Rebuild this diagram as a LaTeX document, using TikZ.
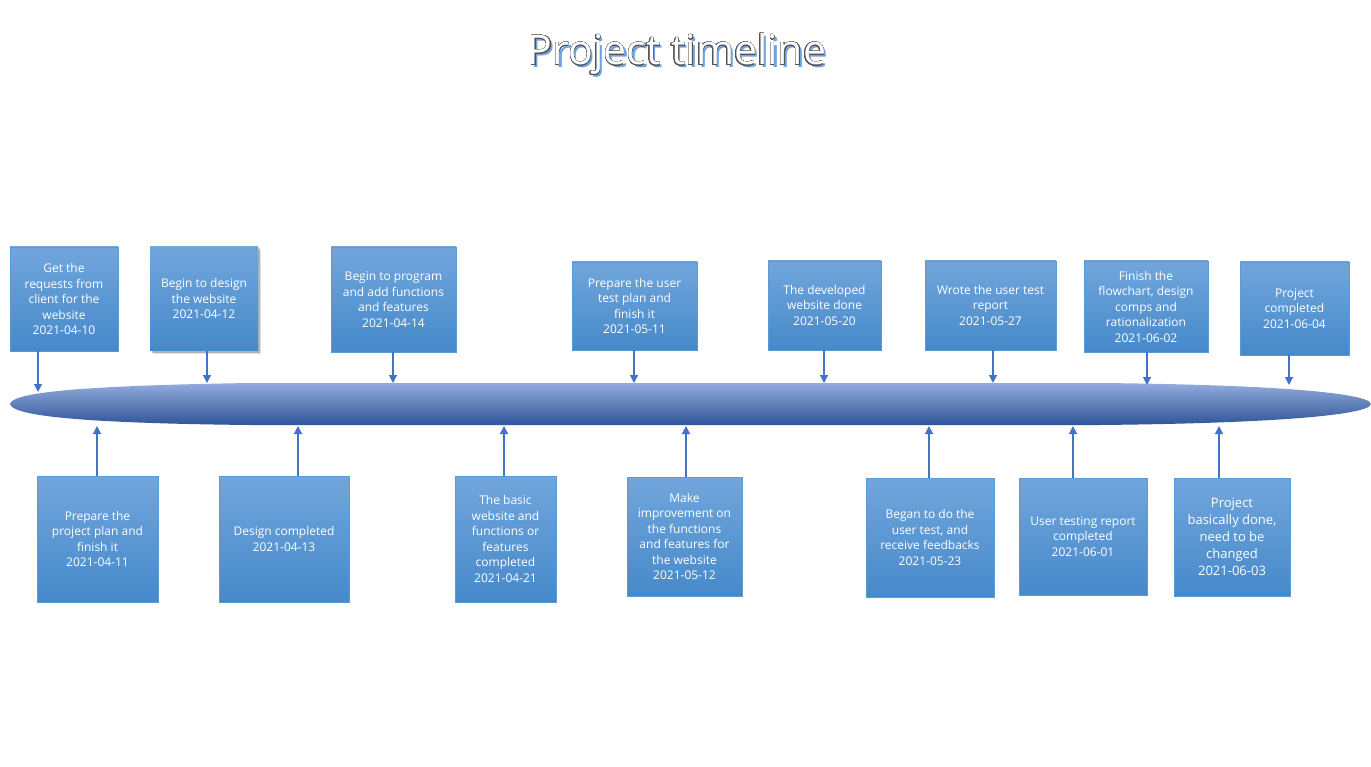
\documentclass[tikz,border=0pt]{standalone}
\usepackage{fontspec}
\setmainfont{Open Sans}
\usepackage{contour}
\contourlength{0.35pt}
\contournumber{32}
\usetikzlibrary{arrows.meta,shadows}
\definecolor{boxtop}{HTML}{71A6DC}
\definecolor{boxbot}{HTML}{4689CA}
\definecolor{boxline}{HTML}{5B9BD5}
\definecolor{arrowblue}{HTML}{4472C4}
\definecolor{bartop}{HTML}{93ACDE}
\definecolor{barmid}{HTML}{4472C4}
\definecolor{barbot}{HTML}{2F5597}
\definecolor{titleshadow}{HTML}{6FA3DE}
\definecolor{titleline}{HTML}{555555}
\tikzset{
  stepbox/.style={draw=boxline, line width=0.8pt, top color=boxtop, bottom color=boxbot,
    text=white, align=center, inner sep=0pt, font=\fontsize{12}{15.5}\selectfont},
  conn/.style={arrowblue, line width=1.2pt, -{Triangle[width=8pt,length=8pt]}},
  titlefont/.style={font=\fontsize{41}{48}\selectfont, anchor=base}
}
\begin{document}
\begin{tikzpicture}[x=1pt,y=-1pt]
      \path[fill=white, use as bounding box] (0,0) rectangle (1371,767);
      % title
      \node[titlefont, text=titleshadow] (tshadow) at (679.5,67.5) {Project timeline};
      \node[titlefont] (title) at (677,65) {\contour{titleline}{\textcolor{white}{Project timeline}}};
      % timeline bar
      \shade[top color=bartop, middle color=barmid, bottom color=barbot]
        (10,404) .. controls (12,394) and (60,386) .. (250,383) -- (1100,383)
        .. controls (1300,385) and (1371,395) .. (1371,404)
        .. controls (1371,413) and (1300,423) .. (1100,425) -- (250,425)
        .. controls (60,423) and (12,414) .. (10,404) -- cycle;
      % steps above the bar
      \node[stepbox, minimum width=108, minimum height=104] (t1) at (64,299)
        {Get the\\requests from\\client for the\\website\\2021-04-10};
      \node[stepbox, draw=none, minimum width=108, minimum height=104,
        drop shadow={shadow xshift=3pt, shadow yshift=-3pt, opacity=0.12, fill=black},
        drop shadow={shadow xshift=1.5pt, shadow yshift=-1.5pt, opacity=0.2, fill=black}] (t2) at (204,299)
        {Begin to design\\the website\\2021-04-12};
      \node[stepbox, minimum width=125, minimum height=105] (t3) at (393.5,299.5)
        {Begin to program\\and add functions\\and features\\2021-04-14};
      \node[stepbox, minimum width=125, minimum height=88] (t4) at (634.5,306)
        {Prepare the user\\test plan and\\finish it\\2021-05-11};
      \node[stepbox, minimum width=113, minimum height=89] (t5) at (824.5,305.5)
        {The developed\\website done\\2021-05-20};
      \node[stepbox, minimum width=131, minimum height=89] (t6) at (990.5,305.5)
        {Wrote the user test\\report\\2021-05-27};
      \node[stepbox, minimum width=124, minimum height=91] (t7) at (1146,306.5)
        {Finish the\\flowchart, design\\comps and\\rationalization\\2021-06-02};
      \node[stepbox, minimum width=109, minimum height=93] (t8) at (1294.5,308.5)
        {Project\\completed\\2021-06-04};
      % steps below the bar
      \node[stepbox, minimum width=121, minimum height=126] (b1) at (97.5,539)
        {Prepare the\\project plan and\\finish it\\2021-04-11};
      \node[stepbox, minimum width=130, minimum height=126] (b2) at (284,539)
        {Design completed\\2021-04-13};
      \node[stepbox, minimum width=101, minimum height=126] (b3) at (505.5,539)
        {The basic\\website and\\functions or\\features\\completed\\2021-04-21};
      \node[stepbox, minimum width=115, minimum height=119] (b4) at (684.5,536.5)
        {Make\\improvement on\\the functions\\and features for\\the website\\2021-05-12};
      \node[stepbox, minimum width=128, minimum height=119] (b5) at (930,537.5)
        {Began to do the\\user test, and\\receive feedbacks\\2021-05-23};
      \node[stepbox, minimum width=128, minimum height=117] (b6) at (1083,536.5)
        {User testing report\\completed\\2021-06-01};
      \node[stepbox, minimum width=116, minimum height=118, font=\fontsize{13}{17}\selectfont] (b7) at (1232,537)
        {Project\\basically done,\\need to be\\changed\\2021-06-03};
      % points on the bar
      \coordinate (et1) at (38,392);
      \coordinate (et2) at (207,383);
      \coordinate (et3) at (393,383);
      \coordinate (et4) at (634,383);
      \coordinate (et5) at (824,383);
      \coordinate (et6) at (993,383);
      \coordinate (et7) at (1147,385);
      \coordinate (et8) at (1289,385);
      \coordinate (eb1) at (97,426);
      \coordinate (eb2) at (298,426);
      \coordinate (eb3) at (504,426);
      \coordinate (eb4) at (686,426);
      \coordinate (eb5) at (929,426);
      \coordinate (eb6) at (1073,426);
      \coordinate (eb7) at (1219,426);
      \begin{scope}[conn]
        \draw (t1.south -| et1) to (et1);
        \draw (t2.south -| et2) to (et2);
        \draw (t3.south -| et3) to (et3);
        \draw (t4.south -| et4) to (et4);
        \draw (t5.south -| et5) to (et5);
        \draw (t6.south -| et6) to (et6);
        \draw (t7.south -| et7) to (et7);
        \draw (t8.south -| et8) to (et8);
        \draw (b1.north -| eb1) to (eb1);
        \draw (b2.north -| eb2) to (eb2);
        \draw (b3.north -| eb3) to (eb3);
        \draw (b4.north -| eb4) to (eb4);
        \draw (b5.north -| eb5) to (eb5);
        \draw (b6.north -| eb6) to (eb6);
        \draw (b7.north -| eb7) to (eb7);
      \end{scope}
    \end{tikzpicture}
\end{document}
